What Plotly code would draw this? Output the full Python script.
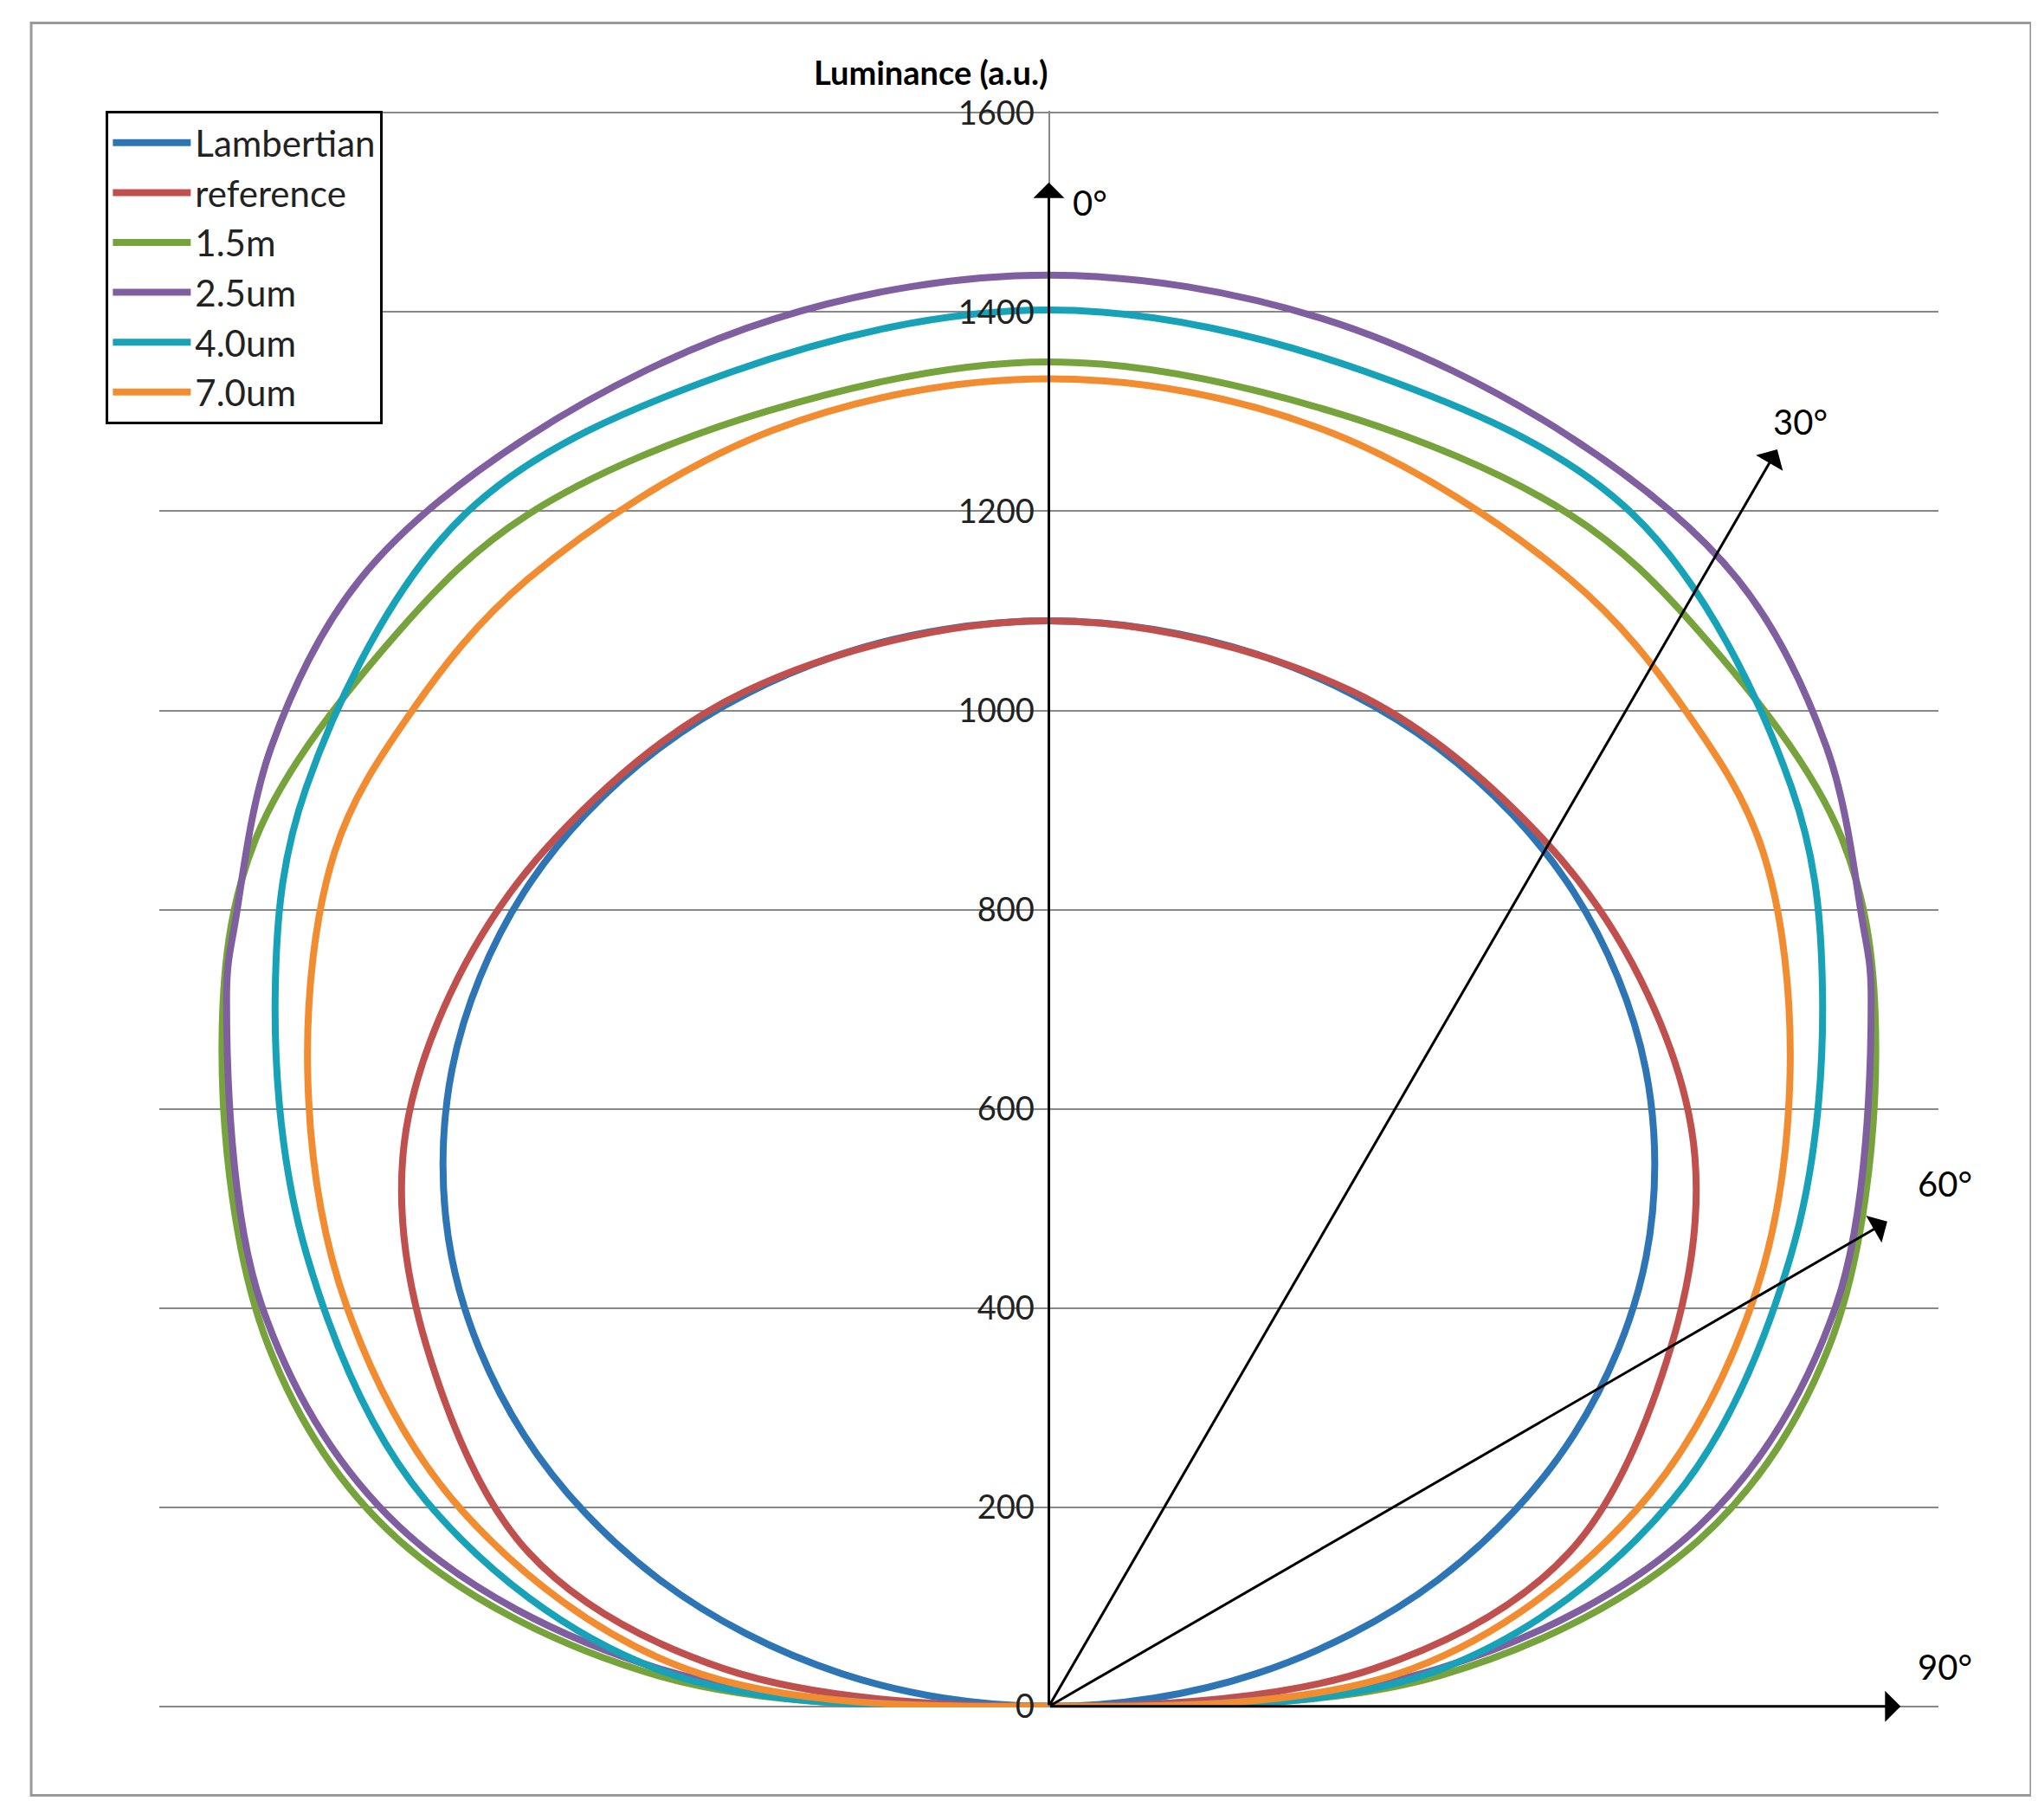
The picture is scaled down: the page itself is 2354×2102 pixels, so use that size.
import numpy as np
import plotly.graph_objects as go

# angle (deg) / luminance readings per series (right half; mirrored on left)
lam_ang = [0, 10, 20, 30, 40, 50, 60, 70, 80, 90]
lam_val = [1090, 1073, 1024, 944, 835, 701, 545, 373, 189, 0]
ref_ang = [0, 15, 27, 37, 46.5, 57, 71.7, 82.6, 90]
ref_val = [1090, 1055, 978, 895, 801, 668, 493, 295, 0]
g15_ang = [0, 11, 21.4, 28.5, 39.3, 48.3, 62.7, 74, 85, 90]
g15_val = [1350, 1325, 1285, 1227, 1126, 996, 790, 609, 352, 0]
p25_ang = [0, 10, 20.2, 28.7, 36, 42.7, 46, 60.4, 72.8, 83.8, 90]
p25_val = [1437, 1415, 1358, 1290, 1190, 1078, 1028, 814, 612, 353, 0]
c40_ang = [0, 12, 23.7, 35.9, 44.2, 55.8, 69.7, 84, 90]
c40_val = [1402, 1370, 1307, 1139, 998, 807, 598, 353, 0]
o70_ang = [0, 11, 22.5, 30, 36.8, 46.3, 57.5, 69.7, 83.4, 90]
o70_val = [1333, 1305, 1225, 1150, 1072, 922, 749, 561, 329, 0]

names = ["Lambertian", "reference", "1.5m", "2.5um", "4.0um", "7.0um"]
colors = ["#2E75B6", "#C0504D", "#77A33C", "#7F5FA0", "#17A2B8", "#F28C30"]
series = [(lam_ang, lam_val), (ref_ang, ref_val), (g15_ang, g15_val),
          (p25_ang, p25_val), (c40_ang, c40_val), (o70_ang, o70_val)]

FONT = "Lato, Open Sans, sans-serif"
fig = go.Figure()
for (ang, val), n, c in zip(series, names, colors):
    a = np.radians(np.array(ang, float))
    v = np.array(val, float)
    af = np.concatenate([-a[::-1], a[1:]])
    vf = np.concatenate([v[::-1], v[1:]])
    fig.add_trace(go.Scatter(x=vf*np.sin(af), y=vf*np.cos(af), mode="lines", name=n,
                             line=dict(color=c, width=8, shape="spline", smoothing=1.0)))

arrows = [(0, 1530, "0°", 20, 1510), (655, 1262, "30°", 650, 1290),
          (754, 487, "60°", 780, 525), (766, 0, "90°", 780, 40)]
for x, y, t, lx, ly in arrows:
    fig.add_annotation(x=x, y=y, ax=0, ay=0, xref="x", yref="y", axref="x", ayref="y",
                       showarrow=True, arrowhead=1, arrowsize=2, arrowwidth=3,
                       arrowcolor="black", text="")
    fig.add_annotation(x=lx, y=ly, text=t, showarrow=False, xanchor="left",
                       font=dict(size=40, color="black", family=FONT))
fig.add_annotation(x=0.5, y=1.0, xref="paper", yref="paper", yanchor="bottom", xanchor="right",
                   yshift=20, text="<b>Luminance (a.u.)</b>", showarrow=False,
                   font=dict(size=38, color="black", family=FONT))

fig.update_layout(
    width=2354, height=2102, paper_bgcolor="white", plot_bgcolor="white",
    margin=dict(l=176, r=123, t=120, b=138),
    font=dict(family=FONT, size=38, color="#222"),
    xaxis=dict(range=[-800, 800], visible=False),
    yaxis=dict(range=[-1, 1602], tickvals=[0, 200, 400, 600, 800, 1000, 1200, 1400, 1600],
               anchor="free", position=0.5,
               showgrid=True, gridcolor="#888", gridwidth=2, zeroline=False,
               showline=True, linecolor="#888", linewidth=2, ticks="", ticklabelstandoff=8),
    legend=dict(x=-0.03, y=1.0, xanchor="left", yanchor="top", bgcolor="white",
                bordercolor="black", borderwidth=3, font=dict(size=42, family=FONT),
                tracegroupgap=0, itemwidth=90),
    shapes=[dict(type="rect", xref="paper", yref="paper", x0=-0.072, x1=1.052, y0=-0.055, y1=1.055,
                 line=dict(color="#999", width=3))],
)
fig.write_html("out.html")
